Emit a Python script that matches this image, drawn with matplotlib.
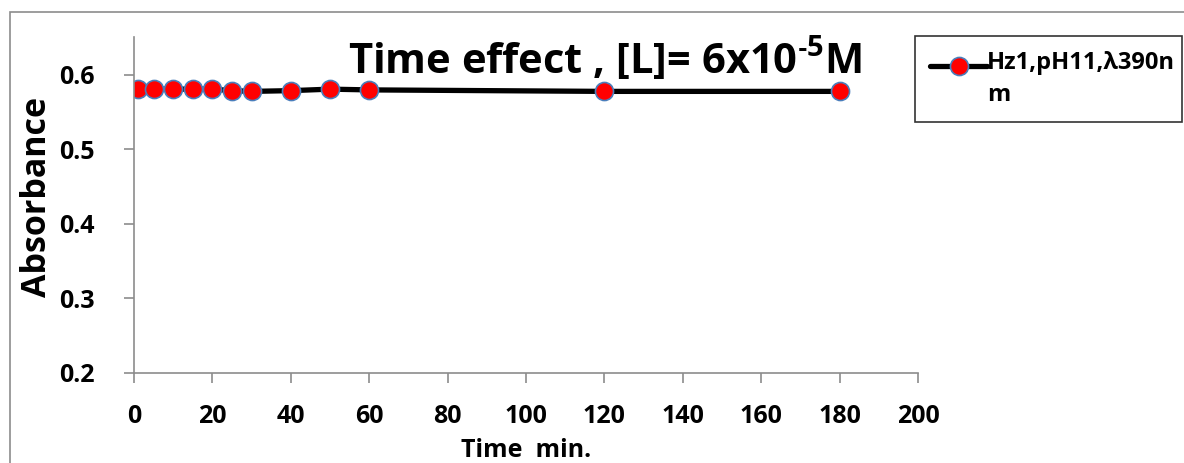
import numpy as np
import matplotlib
matplotlib.use("Agg")
import matplotlib.pyplot as plt
from matplotlib.patches import Rectangle
from matplotlib.legend_handler import HandlerLine2D
from matplotlib import font_manager as fm

time_min = [1, 5, 10, 15, 20, 25, 30, 40, 50, 60, 120, 180]
absorbance = [0.581, 0.581, 0.581, 0.581, 0.581, 0.579, 0.578, 0.579, 0.581, 0.580, 0.578, 0.578]
series_label = "Hz1,pH11,λ390n\nm"
x_ticks = [0, 20, 40, 60, 80, 100, 120, 140, 160, 180, 200]
y_ticks = [0.2, 0.3, 0.4, 0.5, 0.6]

names = {f.name for f in fm.fontManager.ttflist}
fam = ['Open Sans', 'DejaVu Sans']
fam = [f for f in fam if f in names]
plt.rcParams['font.family'] = fam
plt.rcParams['font.weight'] = 'bold'
plt.rcParams['mathtext.fontset'] = 'custom'
plt.rcParams['mathtext.bf'] = fam[0] + ':bold'
plt.rcParams['mathtext.rm'] = fam[0] + ':bold'


class RaisedHandler(HandlerLine2D):
    def __init__(self, dy, **kw):
        super().__init__(**kw)
        self.dy = dy

    def create_artists(self, legend, orig_handle, xdescent, ydescent, width, height,
                       fontsize, trans):
        arts = super().create_artists(legend, orig_handle, xdescent, ydescent, width,
                                      height, fontsize, trans)
        for a in arts:
            a.set_ydata(np.asarray(a.get_ydata(), dtype=float) + self.dy)
        return arts


W, H = 1184, 463
fig = plt.figure(figsize=(W/100, H/100), dpi=100)
ax = fig.add_axes([134/W, 1-373/H, (918-134)/W, (373-37)/H])

line, = ax.plot(time_min, absorbance, color='black', lw=3.8, marker='o', ms=13,
                mfc='red', mec='#4a7ebb', mew=1.2, label=series_label, solid_capstyle='round')

ax.set_xlim(0, 200)
ax.set_ylim(0.2, 0.651)
ax.set_xticks(x_ticks)
ax.set_yticks(y_ticks)
ax.set_yticklabels([f"{v:.1f}" for v in y_ticks])
for s in ['top', 'right']:
    ax.spines[s].set_visible(False)
for s in ['left', 'bottom']:
    ax.spines[s].set_color('#8c8c8c')
    ax.spines[s].set_linewidth(1.2)
ax.tick_params(axis='both', direction='out', color='#8c8c8c', width=1.2, length=7,
               labelsize=18)
ax.tick_params(axis='y', pad=21)
ax.tick_params(axis='x', pad=15)
for lab in ax.get_xticklabels() + ax.get_yticklabels():
    lab.set_fontweight('bold')
ax.set_xlabel("Time  min.", fontsize=18, fontweight='bold', labelpad=7)
ax.set_ylabel("Absorbance", fontsize=24.5, fontweight='bold')
ax.yaxis.set_label_coords((54-134)/784, (373-197)/336)

fig.text(605/W, 1-60/H, "Time effect , [L]= 6x10$^{\\mathbf{\u2010}\\mathbf{5}}$M", fontsize=30,
         fontweight='bold', ha='center', va='center')

leg = fig.legend(handles=[line], labels=[series_label],
                 handler_map={line: RaisedHandler(dy=10)},
                 loc='upper left', bbox_to_anchor=(915/W, 1-136/H, (1182-915)/W, (136-36)/H),
                 mode='expand', fancybox=False, edgecolor='black', fontsize=17,
                 handlelength=2.4, borderpad=0.65, handletextpad=0.0, borderaxespad=0)
leg.get_frame().set_linewidth(1.2)
for t in leg.get_texts():
    t.set_fontweight('bold')
    t.set_linespacing(1.4)

fig.add_artist(Rectangle((10/W, -0.05), 1.2, 1-12/H+0.05, transform=fig.transFigure,
                         fill=False, edgecolor='#8c8c8c', lw=1.2))

fig.savefig("out.png", dpi=100)
